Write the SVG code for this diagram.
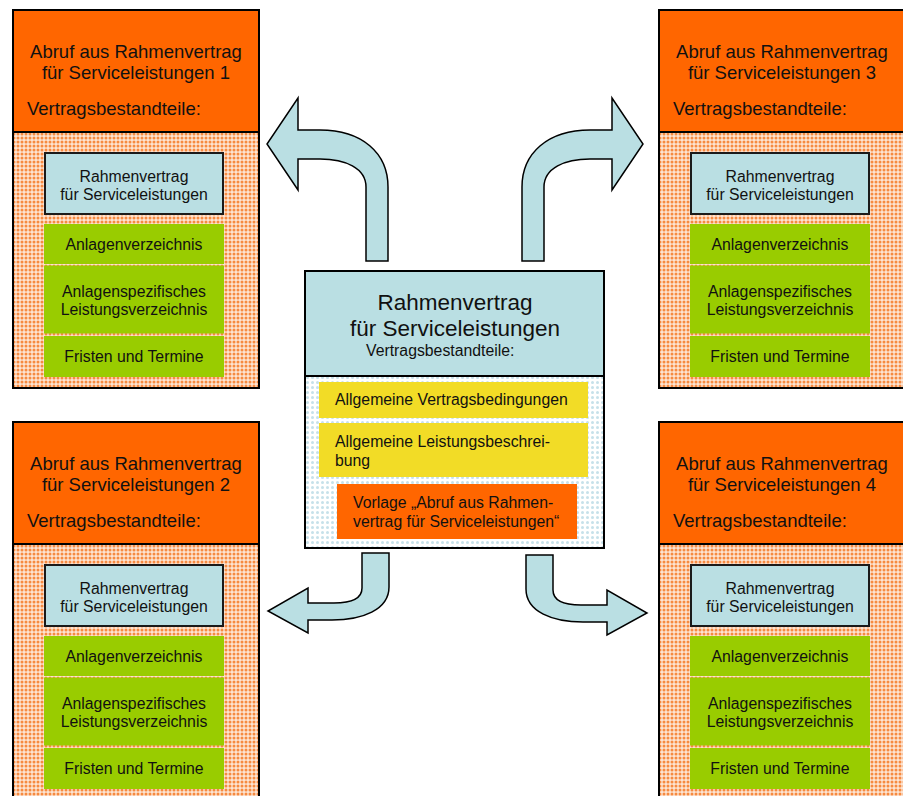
<svg xmlns="http://www.w3.org/2000/svg" width="903" height="796" viewBox="0 0 903 796">
<defs>
<pattern id="dotsO" width="4" height="4" patternUnits="userSpaceOnUse">
<rect width="4" height="4" fill="#FDE4D2"/>
<circle cx="2" cy="2" r="1.5" fill="#F68A40"/>
</pattern>
<pattern id="dotsB" width="5" height="5" patternUnits="userSpaceOnUse">
<rect width="5" height="5" fill="#FFFFFF"/>
<circle cx="2.5" cy="2.5" r="1.5" fill="#C6E1EA"/>
</pattern>
<g id="callbox">
<rect x="13" y="10" width="246" height="378" fill="url(#dotsO)" stroke="#000" stroke-width="2"/>
<rect x="13" y="10" width="246" height="122" fill="#FF6600" stroke="#000" stroke-width="2"/>
<rect x="45" y="153" width="178" height="61" fill="#BADFE3" stroke="#1a1a1a" stroke-width="2"/>
<rect x="44" y="224" width="180" height="40" fill="#99CC00"/>
<rect x="44" y="265.5" width="180" height="68" fill="#99CC00"/>
<rect x="44" y="336" width="180" height="41" fill="#99CC00"/>
<text class="sm" x="134" y="182" text-anchor="middle">Rahmenvertrag</text>
<text class="sm" x="134" y="200" text-anchor="middle">für Serviceleistungen</text>
<text class="sm" x="134" y="250" text-anchor="middle">Anlagenverzeichnis</text>
<text class="sm" x="134" y="297" text-anchor="middle">Anlagenspezifisches</text>
<text class="sm" x="134" y="315" text-anchor="middle">Leistungsverzeichnis</text>
<text class="sm" x="134" y="362" text-anchor="middle">Fristen und Termine</text>
<text class="lg" x="27" y="115">Vertragsbestandteile:</text>
</g>
</defs>
<style>
text{font-family:"Liberation Sans",Arial,sans-serif;fill:#111}
.sm{font-size:15.8px}
.lg{font-size:18.5px}
.xl{font-size:22.5px}
.arrow{fill:#BADFE3;stroke:#000;stroke-width:1.5;stroke-linejoin:miter}
</style>

<g id="abruf1">
<use href="#callbox"/>
<text class="lg" x="136" y="58" text-anchor="middle">Abruf aus Rahmenvertrag</text>
<text class="lg" x="136" y="79" text-anchor="middle">für Serviceleistungen 1</text>
</g>
<g id="abruf2" transform="translate(0,412)">
<use href="#callbox"/>
<text class="lg" x="136" y="58" text-anchor="middle">Abruf aus Rahmenvertrag</text>
<text class="lg" x="136" y="79" text-anchor="middle">für Serviceleistungen 2</text>
</g>
<g id="abruf3" transform="translate(646,0)">
<use href="#callbox"/>
<text class="lg" x="136" y="58" text-anchor="middle">Abruf aus Rahmenvertrag</text>
<text class="lg" x="136" y="79" text-anchor="middle">für Serviceleistungen 3</text>
</g>
<g id="abruf4" transform="translate(646,412)">
<use href="#callbox"/>
<text class="lg" x="136" y="58" text-anchor="middle">Abruf aus Rahmenvertrag</text>
<text class="lg" x="136" y="79" text-anchor="middle">für Serviceleistungen 4</text>
</g>

<g id="rahmenvertrag">
<rect x="305" y="271" width="299" height="277" fill="url(#dotsB)" stroke="#000" stroke-width="2"/>
<rect x="305" y="271" width="299" height="105" fill="#BADFE3" stroke="#000" stroke-width="2"/>
<text class="xl" x="455" y="310" text-anchor="middle">Rahmenvertrag</text>
<text class="xl" x="455" y="336" text-anchor="middle">für Serviceleistungen</text>
<text class="sm" x="366" y="356">Vertragsbestandteile:</text>
<rect x="319" y="382" width="269" height="36" fill="#F2DC26"/>
<text class="sm" x="335" y="405">Allgemeine Vertragsbedingungen</text>
<rect x="319" y="423" width="269" height="54" fill="#F2DC26"/>
<text class="sm" x="335" y="447">Allgemeine Leistungsbeschrei-</text>
<text class="sm" x="335" y="466">bung</text>
<rect x="337" y="484" width="240" height="55" fill="#FF6600"/>
<text class="sm" x="353" y="508">Vorlage „Abruf aus Rahmen-</text>
<text class="sm" x="353" y="527">vertrag für Serviceleistungen“</text>
</g>

<g id="connectors">
<path id="arrowTL" class="arrow" d="M366,261 L366,187 C366,168 345,159 320,159 L298,159 L298,190 L267,144 L298,98 L298,130 L320,130 C362,130 388,153 388,187 L388,261 Z"/>
<path id="arrowTR" class="arrow" transform="translate(910,0) scale(-1,1)" d="M366,261 L366,187 C366,168 345,159 320,159 L298,159 L298,190 L267,144 L298,98 L298,130 L320,130 C362,130 388,153 388,187 L388,261 Z"/>
<path id="arrowBL" class="arrow" d="M362,553 L389,553 L389,587 C389,610 362,620 332,620 L308,620 L308,633 L268,611 L308,588 L308,603 L334,603 C352,603 362,598 362,588 Z"/>
<path id="arrowBR" class="arrow" transform="translate(915,2) scale(-1,1)" d="M362,553 L389,553 L389,587 C389,610 362,620 332,620 L308,620 L308,633 L268,611 L308,588 L308,603 L334,603 C352,603 362,598 362,588 Z"/>
</g>
</svg>
